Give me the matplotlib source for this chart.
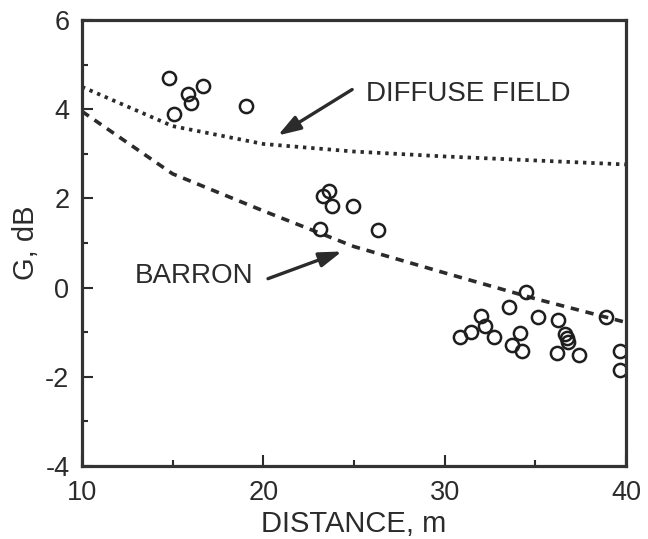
import matplotlib
matplotlib.use('Agg')
import matplotlib.pyplot as plt
from matplotlib.ticker import MultipleLocator

plt.rcParams['font.family'] = ['Liberation Sans', 'DejaVu Sans']
plt.rcParams['axes.unicode_minus'] = False

# measured points
dist = [14.8, 15.07, 15.85, 16.0, 16.7, 19.05,
        23.13, 23.3, 23.6, 23.8, 24.95, 26.3,
        30.85, 31.45, 32.0, 32.2, 32.7, 33.55, 34.15, 33.7, 34.27, 34.5,
        35.15, 36.25, 36.2, 36.64, 36.75, 36.8, 37.4, 38.9, 39.67, 39.67]
g_db = [4.69, 3.90, 4.35, 4.13, 4.53, 4.08,
        1.32, 2.06, 2.17, 1.82, 1.82, 1.28,
        -1.10, -0.99, -0.63, -0.87, -1.10, -0.43, -1.01, -1.28, -1.43, -0.11,
        -0.67, -0.72, -1.46, -1.05, -1.12, -1.21, -1.50, -0.65, -1.43, -1.84]

# model curves
curve_x = [10, 15, 20, 25, 30, 35, 40]
diffuse = [4.5, 3.62, 3.22, 3.05, 2.94, 2.85, 2.76]
barron = [3.95, 2.55, 1.72, 0.92, 0.33, -0.25, -0.78]

ink = '#2b2b2b'

fig = plt.figure(figsize=(6.48, 5.39), dpi=100)
ax = fig.add_axes([0.1265, 0.1354, 0.8395, 0.8276])

ax.plot(curve_x, diffuse, color=ink, lw=2.7, linestyle=(0, (0.9, 1.3)))
ax.plot(curve_x, barron, color=ink, lw=2.6, linestyle=(0, (2.3, 1.9)))
ax.plot(dist, g_db, 'o', ms=9.5, mfc='none', mec='#1e1e1e', mew=1.8)

arrow_style = '-|>,head_length=0.85,head_width=0.28'
ax.annotate('', xy=(20.8, 3.41), xytext=(24.9, 4.44),
            arrowprops=dict(arrowstyle=arrow_style, color=ink,
                            lw=2.4, mutation_scale=16, shrinkA=0, shrinkB=0))
ax.text(25.66, 4.33, 'DIFFUSE FIELD', fontsize=20, color=ink, va='center', ha='left')

ax.annotate('', xy=(24.34, 0.81), xytext=(20.26, 0.2),
            arrowprops=dict(arrowstyle=arrow_style, color=ink,
                            lw=2.4, mutation_scale=16, shrinkA=0, shrinkB=0))
ax.text(12.92, 0.25, 'BARRON', fontsize=20, color=ink, va='center', ha='left')

ax.set_xlim(10, 40)
ax.set_ylim(-4, 6)
ax.xaxis.set_major_locator(MultipleLocator(10))
ax.xaxis.set_minor_locator(MultipleLocator(5))
ax.yaxis.set_major_locator(MultipleLocator(2))
ax.yaxis.set_minor_locator(MultipleLocator(1))
ax.tick_params(which='both', direction='in', colors=ink, labelsize=19.5, width=1.5)
ax.tick_params(which='major', length=8)
ax.tick_params(which='minor', length=4)
ax.tick_params(axis='x', which='major', pad=10)
ax.tick_params(axis='y', which='major', pad=9)

for s in ax.spines.values():
    s.set_linewidth(2.3)
    s.set_color('#333333')

ax.set_xlabel('DISTANCE, m', fontsize=21, color=ink, labelpad=3)
ax.set_ylabel('G, dB', fontsize=21, color=ink, labelpad=4)

fig.savefig('out.png', dpi=100)
